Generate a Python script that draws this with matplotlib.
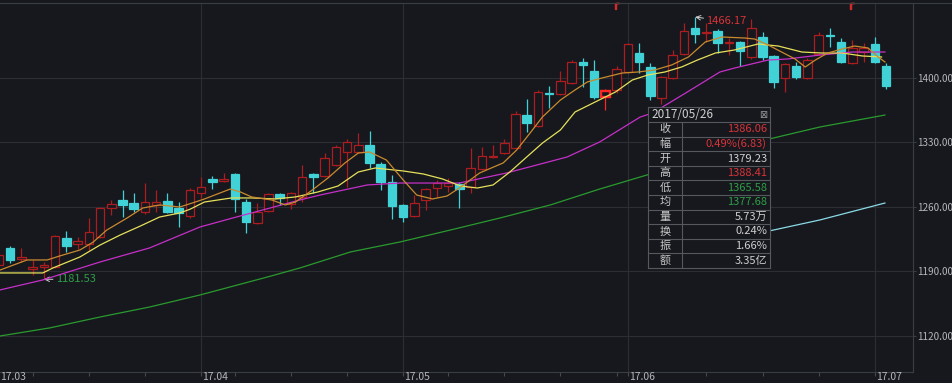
import matplotlib
matplotlib.use('Agg')
import matplotlib.pyplot as plt
from matplotlib.lines import Line2D
import matplotlib.transforms as mtransforms
import numpy as np

plt.rcParams['font.family'] = ['Noto Sans CJK SC', 'DejaVu Sans']

# daily bars, 2017-03-08 .. 2017-07-04 (bar index 0..79)
opens = [1197.0, 1215.5, 1203.6, 1192.7, 1194.9, 1194.9, 1226.4, 1219.8, 1219.8, 1227.4,
         1258.9, 1267.6, 1264.3, 1254.6, 1262.2, 1266.5, 1258.9, 1250.2, 1275.2, 1290.4,
         1288.2, 1295.8, 1265.4, 1242.6, 1255.7, 1274.1, 1263.3, 1270.9, 1295.8, 1293.6,
         1305.6, 1319.7, 1319.7, 1327.3, 1306.7, 1287.1, 1262.2, 1250.2, 1267.6, 1280.6,
         1282.8, 1284.9, 1281.7, 1301.2, 1314.3, 1318.6, 1324.0, 1359.8, 1347.9, 1383.7,
         1382.6, 1394.6, 1417.4, 1407.6, 1379.23, 1387.0, 1406.5, 1427.1, 1411.9, 1378.3,
         1400.0, 1426.0, 1454.3, 1448.8, 1451.0, 1438.0, 1439.1, 1422.8, 1444.5, 1423.9,
         1400.0, 1413.0, 1400.0, 1426.0, 1446.7, 1439.1, 1416.3, 1428.2, 1436.9, 1413.0]
closes = [1207.9, 1202.5, 1205.7, 1194.9, 1197.0, 1228.5, 1217.6, 1223.1, 1232.9, 1258.9,
          1263.3, 1262.2, 1257.8, 1265.4, 1265.4, 1254.6, 1253.5, 1278.4, 1281.7, 1287.1,
          1290.4, 1268.7, 1243.7, 1254.6, 1274.1, 1269.8, 1275.2, 1292.5, 1292.5, 1313.2,
          1325.1, 1330.5, 1327.3, 1307.8, 1287.1, 1261.1, 1249.1, 1264.3, 1279.5, 1286.0,
          1286.0, 1279.5, 1302.3, 1315.3, 1315.3, 1329.4, 1360.9, 1351.2, 1384.8, 1382.6,
          1396.7, 1417.4, 1414.1, 1379.23, 1386.06, 1409.8, 1436.9, 1417.4, 1380.5, 1401.1,
          1425.0, 1451.0, 1447.7, 1449.9, 1438.0, 1439.1, 1429.3, 1454.3, 1422.8, 1395.7,
          1415.2, 1401.1, 1419.5, 1446.7, 1445.6, 1417.4, 1432.6, 1432.6, 1417.4, 1391.3]
highs = [1211.2, 1217.6, 1215.5, 1202.5, 1200.3, 1229.6, 1234.0, 1227.4, 1248.0, 1260.0,
         1267.6, 1278.4, 1275.2, 1286.0, 1278.4, 1275.2, 1265.4, 1280.6, 1292.5, 1293.6,
         1296.9, 1296.5, 1268.7, 1264.3, 1275.2, 1275.2, 1276.3, 1305.6, 1296.9, 1318.6,
         1327.3, 1333.8, 1340.3, 1342.5, 1308.8, 1294.7, 1263.3, 1273.0, 1280.6, 1289.3,
         1291.5, 1287.1, 1324.0, 1325.1, 1327.3, 1333.8, 1364.2, 1377.2, 1387.0, 1391.3,
         1407.6, 1419.5, 1421.7, 1419.5, 1388.41, 1413.0, 1438.0, 1438.0, 1416.3, 1402.2,
         1430.4, 1459.7, 1466.17, 1459.7, 1453.2, 1443.4, 1440.2, 1464.0, 1449.9, 1425.0,
         1416.3, 1417.4, 1421.7, 1449.9, 1454.3, 1443.4, 1441.2, 1438.0, 1444.5, 1416.3]
lows = [1193.8, 1199.2, 1200.3, 1186.2, 1181.53, 1193.8, 1211.2, 1214.4, 1213.3, 1226.4,
        1251.3, 1249.1, 1254.6, 1252.4, 1254.6, 1253.5, 1238.3, 1248.0, 1269.8, 1279.5,
        1287.1, 1254.6, 1231.8, 1241.5, 1254.6, 1262.2, 1257.8, 1265.4, 1275.2, 1292.5,
        1304.5, 1281.7, 1318.6, 1302.3, 1278.4, 1247.0, 1243.7, 1249.1, 1256.7, 1270.9,
        1276.3, 1258.9, 1275.2, 1300.1, 1313.2, 1317.5, 1322.9, 1341.4, 1346.8, 1367.4,
        1381.5, 1393.5, 1390.2, 1377.2, 1365.58, 1383.7, 1405.4, 1405.4, 1376.1, 1371.8,
        1398.9, 1425.0, 1438.0, 1439.1, 1427.1, 1425.0, 1413.0, 1421.0, 1419.5, 1389.1,
        1384.8, 1398.9, 1398.9, 1425.0, 1433.6, 1416.3, 1415.2, 1417.4, 1416.3, 1388.1]

# moving averages (bar index, value)
ma5_x = [0.1, 2.5, 4.3, 5.4, 7.2, 8.4, 9.6, 11.4, 12.8, 14.3, 16.1, 17.0, 18.3, 20.6, 21.5,
         22.5, 24.3, 25.5, 26.4, 27.9, 29.3, 30.8, 32.0, 33.0, 34.5, 36.0, 37.2, 38.6, 39.9,
         41.0, 42.8, 44.9, 46.1, 47.3, 48.4, 50.0, 51.3, 52.4, 53.7, 55.5, 56.9, 58.4, 59.9,
         61.4, 62.9, 64.4, 66.4, 67.3, 68.5, 69.7, 70.9, 71.8, 72.7, 73.8, 75.1, 76.2, 77.4,
         78.3, 78.9]
ma5_v = [1191.6, 1202.5, 1202.5, 1206.8, 1213.3, 1222.0, 1235.0, 1248.0, 1258.9, 1262.2,
         1260.0, 1263.5, 1268.7, 1279.5, 1276.3, 1270.9, 1267.6, 1262.2, 1265.4, 1278.4,
         1291.5, 1307.7, 1318.6, 1319.7, 1311.0, 1289.3, 1273.0, 1268.7, 1271.9, 1280.6,
         1296.9, 1307.8, 1321.8, 1340.3, 1357.7, 1376.1, 1387.0, 1395.7, 1400.0, 1405.4,
         1406.5, 1408.7, 1414.1, 1422.8, 1439.1, 1444.5, 1443.4, 1442.3, 1435.8, 1428.2,
         1420.6, 1411.9, 1419.5, 1427.1, 1431.5, 1434.7, 1432.6, 1422.8, 1417.4]
ma10_x = [0.1, 3.9, 4.8, 7.2, 9.0, 10.8, 12.6, 14.3, 16.1, 17.0, 18.3, 20.7, 22.5, 24.6,
          26.4, 28.4, 30.2, 32.0, 33.5, 36.0, 37.8, 39.5, 41.1, 42.6, 44.0, 45.5, 47.0, 48.4,
          50.0, 51.3, 53.1, 54.9, 56.4, 57.8, 59.3, 60.8, 62.2, 63.8, 65.5, 67.6, 69.4, 71.5,
          73.3, 75.1, 76.9, 78.6]
ma10_v = [1188.4, 1188.4, 1193.8, 1205.7, 1218.7, 1229.6, 1239.4, 1249.1, 1253.5, 1257.5,
          1265.4, 1269.8, 1269.8, 1268.7, 1270.9, 1276.3, 1282.8, 1298.0, 1302.3, 1299.1,
          1295.8, 1290.4, 1282.8, 1280.6, 1283.9, 1298.0, 1314.3, 1329.4, 1343.6, 1363.1,
          1374.0, 1384.8, 1397.8, 1403.3, 1406.5, 1412.0, 1419.5, 1427.1, 1430.4, 1436.9,
          1434.7, 1428.2, 1427.1, 1427.1, 1423.9, 1422.8]
ma20_x = [0.1, 3.9, 9.0, 13.4, 17.9, 20.8, 26.8, 28.6, 32.8, 35.7, 41.0, 45.2, 50.6, 53.5,
          57.1, 58.2, 61.3, 64.2, 65.5, 68.5, 70.2, 73.1, 76.0, 78.9]
ma20_v = [1170.0, 1180.8, 1200.3, 1215.5, 1238.3, 1248.0, 1267.6, 1273.0, 1283.9, 1286.0,
          1286.0, 1296.9, 1314.3, 1330.6, 1357.6, 1362.0, 1384.8, 1406.5, 1410.8, 1419.5,
          1420.6, 1424.9, 1428.2, 1428.2]
ma60_x = [0.1, 4.5, 9.0, 13.4, 17.9, 23.9, 26.8, 31.3, 35.7, 40.2, 44.6, 49.1, 53.5, 55.3,
          56.5, 68.6, 73.1, 78.9]
ma60_v = [1120.0, 1128.7, 1140.6, 1151.4, 1164.5, 1184.0, 1193.8, 1211.2, 1222.0, 1235.0,
          1248.0, 1262.2, 1279.5, 1286.0, 1290.4, 1333.8, 1346.8, 1359.8]
ma120_x = [68.6, 73.1, 78.9]
ma120_v = [1234.0, 1245.9, 1264.3]

month_idx = [18, 36, 56, 78]
month_labels = ['17.04', '17.05', '17.06', '17.07']
week_idx = [3, 8, 13, 21, 26, 31, 40, 45, 50, 55, 63, 68, 73]
yticks = [1120, 1190, 1260, 1330, 1400]
event_idx = [55, 76]
sel = 54

box_date = '2017/05/26'
box_labels = ['收', '幅', '开', '高', '低', '均', '量', '换', '振', '额']
box_values = ['1386.06', '0.49%(6.83)', '1379.23', '1388.41', '1365.58', '1377.68',
              '5.73万', '0.24%', '1.66%', '3.35亿']

BG = '#16181d'
GRID = '#2c2e33'
RED = '#ad1d20'
HRED = '#ff2626'
CYAN = '#40d2d6'
TXT = '#b4b6ba'
box_colors = ['#d8343a', '#d8343a', '#d0d0d0', '#d8343a', '#2f9e48', '#2f9e48',
              '#d0d0d0', '#d0d0d0', '#d0d0d0', '#d0d0d0']

fig = plt.figure(figsize=(9.53, 3.83), dpi=100, facecolor=BG)
ax = fig.add_axes([0, 11 / 383, 913 / 953, 369 / 383], facecolor=BG)
ax.set_xlim(0.09, 81.4)
ax.set_ylim(1080.9, 1481.4)

for s in ['top', 'bottom', 'right']:
    ax.spines[s].set_color('#3a3d42')
    ax.spines[s].set_linewidth(0.8)
ax.spines['left'].set_visible(False)

# grid
for v in yticks:
    ax.axhline(v, color=GRID, lw=0.8, zorder=1)
for m in month_idx:
    ax.axvline(m, color=GRID, lw=0.8, zorder=1)

ax.yaxis.tick_right()
ax.set_yticks(yticks)
ax.set_yticklabels(['%.2f' % v for v in yticks])
ax.tick_params(axis='y', colors='#3a3d42', labelcolor=TXT, labelsize=7.2, length=2, pad=1)
ax.set_xticks(week_idx + month_idx)
ax.set_xticklabels([])
ax.tick_params(axis='x', colors='#45484d', length=3, width=0.8)

# month labels sit on the bottom edge of the figure
trans = mtransforms.blended_transform_factory(ax.transData, fig.transFigure)
ax.text(0.09, 0.5 / 383, '17.03', transform=trans, ha='left', va='bottom', color=TXT,
        fontsize=7.5)
for m, lab in zip(month_idx, month_labels):
    ax.text(m + 0.1, 0.5 / 383, lab, transform=trans, ha='left', va='bottom', color=TXT,
            fontsize=7.5)

# candles
x = np.arange(len(opens))
o = np.array(opens)
c = np.array(closes)
up = c >= o
edge = [RED if u else CYAN for u in up]
face = [BG if u else CYAN for u in up]
edge[sel] = HRED
ax.vlines(x, lows, highs, colors=edge, lw=0.9, zorder=2)
lw = [1.7 if i == sel else 0.9 for i in x]
ax.bar(x, np.maximum(np.abs(c - o), 0.9), bottom=np.minimum(o, c), width=0.76,
       color=face, edgecolor=edge, linewidth=lw, zorder=3)

# moving averages
ax.plot(ma60_x, ma60_v, color='#2a9a2e', lw=0.9, zorder=4)
ax.plot(ma120_x, ma120_v, color='#8adbe6', lw=0.9, zorder=4)
ax.plot(ma20_x, ma20_v, color='#c62fc8', lw=0.9, zorder=4)
ax.plot(ma10_x, ma10_v, color='#e6e05a', lw=0.9, zorder=4)
ax.plot(ma5_x, ma5_v, color='#c98a2e', lw=0.9, zorder=4)

# extremes
hi = int(np.argmax(highs))
lo = int(np.argmin(lows))
ax.annotate('%.2f' % highs[hi], xy=(hi, highs[hi]), xytext=(8, -3), textcoords='offset points',
            color='#d8343a', fontsize=8, va='center', ha='left',
            arrowprops=dict(arrowstyle='->', color='#cfcfcf', lw=0.7, shrinkA=0, shrinkB=0))
ax.annotate('%.2f' % lows[lo], xy=(lo, lows[lo]), xytext=(8.5, 0), textcoords='offset points',
            color='#2f9e48', fontsize=8, va='center', ha='left',
            arrowprops=dict(arrowstyle='->', color='#cfcfcf', lw=0.7, shrinkA=0, shrinkB=0))

# event flags at the top
for e in event_idx:
    ax.plot([e], [1478.0], marker='$\\Gamma$', color='#d42a2a', markersize=5,
            clip_on=False, zorder=5)

# top border across whole width
fig.add_artist(Line2D([0, 1], [380 / 383, 380 / 383], color='#3a3d42', lw=0.8,
                      transform=fig.transFigure))

# info box
ib = fig.add_axes([648 / 953, (383 - 268) / 383, 122 / 953, 161 / 383], facecolor=BG, zorder=10)
ib.set_xlim(0, 122)
ib.set_ylim(161, 0)
ib.set_xticks([])
ib.set_yticks([])
for s in ib.spines.values():
    s.set_color('#55585d')
    s.set_linewidth(0.8)
row_h = (161 - 15) / len(box_labels)
ib.axhline(15, color='#55585d', lw=0.8)
for k in range(1, len(box_labels)):
    ib.axhline(15 + k * row_h, color='#55585d', lw=0.8)
ib.plot([34, 34], [15, 161], color='#55585d', lw=0.8)
ib.text(3, 7.8, box_date, color='#d0d0d0', fontsize=8.5, va='center', ha='left')
ib.text(115, 7.8, '⊠', color='#9a9a9a', fontsize=7, va='center', ha='center',
        family=['DejaVu Sans'])
for k, (lab, val, col) in enumerate(zip(box_labels, box_values, box_colors)):
    yc = 15 + (k + 0.5) * row_h
    ib.text(17, yc, lab, color='#c8c8c8', fontsize=8, va='center', ha='center')
    ib.text(119, yc, val, color=col, fontsize=8, va='center', ha='right')

fig.savefig('out.png', dpi=100, facecolor=BG)
